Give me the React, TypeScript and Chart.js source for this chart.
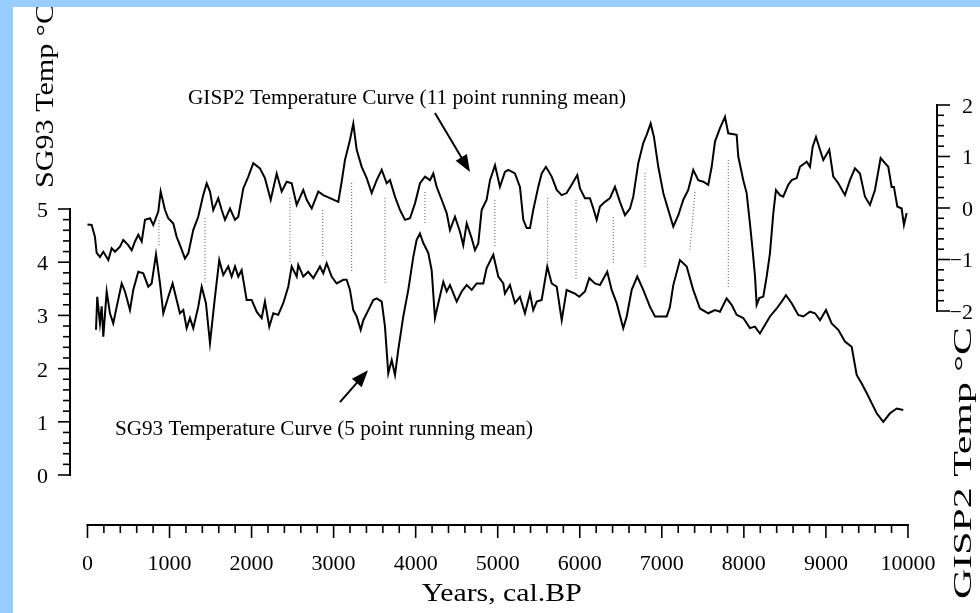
import React, { useEffect, useRef } from "react";
import { Chart, registerables } from "chart.js";

Chart.register(...registerables);

const FONT = '"Liberation Serif", "Times New Roman", serif';

// ---------- GISP2 temperature (right axis, °C), years cal. BP ----------
const gispYears = [
  0, 51, 91, 112, 152, 193, 254, 295, 335, 396, 436, 497, 539, 579, 619, 661, 701, 762, 802, 863,
  892, 945, 985, 1046, 1087, 1127, 1188, 1229, 1289, 1350, 1411, 1453, 1493, 1533, 1594, 1636, 1676, 1737, 1798, 1838,
  1899, 1960, 2021, 2102, 2163, 2233, 2306, 2367, 2428, 2489, 2550, 2630, 2672, 2733, 2813, 2874, 2956, 3057, 3098, 3138,
  3199, 3240, 3281, 3342, 3403, 3464, 3525, 3586, 3647, 3687, 3748, 3809, 3870, 3931, 3992, 4053, 4114, 4175, 4215, 4256,
  4317, 4378, 4418, 4479, 4540, 4580, 4622, 4683, 4723, 4763, 4804, 4865, 4906, 4967, 5027, 5088, 5129, 5210, 5271, 5312,
  5353, 5393, 5433, 5494, 5536, 5588, 5658, 5719, 5780, 5840, 5901, 5970, 6003, 6063, 6124, 6165, 6206, 6246, 6307, 6368,
  6429, 6490, 6551, 6612, 6652, 6713, 6774, 6815, 6864, 6904, 6957, 7018, 7079, 7140, 7201, 7262, 7322, 7383, 7444, 7505,
  7566, 7608, 7648, 7709, 7770, 7810, 7912, 7932, 7993, 8034, 8074, 8107, 8136, 8156, 8188, 8237, 8278, 8318, 8359, 8391,
  8440, 8480, 8541, 8583, 8644, 8684, 8766, 8806, 8839, 8879, 8928, 8968, 9041, 9090, 9151, 9232, 9293, 9354, 9415, 9476,
  9537, 9598, 9667, 9720, 9760, 9801, 9829, 9870, 9923, 9951, 9984,
];
const gispTemps = [
  -0.32, -0.33, -0.56, -0.87, -0.95, -0.85, -1.01, -0.78, -0.85, -0.75, -0.62, -0.72, -0.82, -0.65, -0.52, -0.65, -0.23, -0.2, -0.33, -0.07,
  0.32, -0.04, -0.2, -0.3, -0.56, -0.72, -0.98, -0.88, -0.43, -0.17, 0.25, 0.48, 0.32, -0.04, 0.19, -0.04, -0.23, -0.01, -0.23, -0.17,
  0.38, 0.61, 0.87, 0.77, 0.58, 0.16, 0.67, 0.32, 0.51, 0.48, 0.06, 0.35, 0.16, -0.01, 0.32, 0.25, 0.19, 0.12, 0.51, 0.93,
  1.32, 1.64, 1.13, 0.8, 0.58, 0.29, 0.54, 0.74, 0.48, 0.54, 0.22, -0.04, -0.23, -0.2, 0.09, 0.48, 0.61, 0.54, 0.67, 0.41,
  0.16, -0.1, -0.43, -0.17, -0.46, -0.72, -0.3, -0.59, -0.82, -0.69, -0.04, 0.16, 0.54, 0.83, 0.41, 0.7, 0.74, 0.67, 0.41, -0.23,
  -0.39, -0.39, -0.04, 0.41, 0.67, 0.8, 0.61, 0.35, 0.25, 0.29, 0.45, 0.64, 0.38, 0.19, 0.19, -0.01, -0.23, 0.03, 0.12, 0.19,
  0.41, 0.12, -0.14, -0.01, 0.22, 0.87, 1.26, 1.42, 1.64, 1.38, 0.8, 0.29, -0.04, -0.36, -0.14, 0.16, 0.35, 0.74, 0.54, 0.51,
  0.45, 0.8, 1.29, 1.55, 1.77, 1.45, 1.42, 1.0, 0.54, 0.29, -0.3, -0.82, -1.33, -1.88, -1.75, -1.72, -1.33, -0.88, -0.1, 0.35,
  0.25, 0.22, 0.45, 0.54, 0.58, 0.8, 0.9, 0.8, 1.19, 1.38, 1.13, 0.93, 1.13, 0.61, 0.48, 0.25, 0.54, 0.77, 0.67, 0.22,
  0.06, 0.35, 0.97, 0.87, 0.8, 0.41, 0.41, 0.03, -0.01, -0.33, -0.1,
];

// ---------- SG93 temperature (left axis, °C) ----------
const sgYears = [
  104, 119, 152, 173, 193, 234, 274, 314, 356, 417, 457, 518, 558, 619, 680, 741, 782, 835, 884, 924,
  985, 1038, 1087, 1127, 1168, 1209, 1249, 1289, 1350, 1392, 1444, 1493, 1554, 1606, 1655, 1716, 1757, 1798, 1838, 1879,
  1940, 2001, 2062, 2123, 2163, 2216, 2265, 2325, 2386, 2447, 2489, 2550, 2569, 2630, 2691, 2752, 2834, 2874, 2915, 2976,
  3037, 3118, 3159, 3199, 3240, 3281, 3330, 3362, 3423, 3483, 3525, 3586, 3626, 3666, 3708, 3748, 3788, 3849, 3910, 3971,
  4012, 4052, 4093, 4154, 4195, 4235, 4276, 4337, 4378, 4418, 4500, 4561, 4622, 4683, 4743, 4824, 4865, 4946, 5007, 5068,
  5088, 5149, 5210, 5271, 5332, 5393, 5433, 5475, 5536, 5604, 5658, 5719, 5780, 5840, 5881, 5942, 5994, 6063, 6116, 6185,
  6246, 6335, 6389, 6450, 6530, 6572, 6633, 6701, 6774, 6856, 6917, 7059, 7099, 7140, 7221, 7303, 7383, 7465, 7566, 7648,
  7709, 7790, 7851, 7912, 7993, 8074, 8135, 8196, 8257, 8318, 8400, 8461, 8513, 8583, 8663, 8724, 8806, 8867, 8928, 9001,
  9070, 9151, 9232, 9314, 9375, 9436, 9497, 9558, 9619, 9699, 9781, 9863, 9943,
];
const sgTemps = [
  2.73, 3.35, 2.85, 3.17, 2.6, 3.45, 3.04, 2.85, 3.16, 3.6, 3.45, 3.1, 3.48, 3.82, 3.79, 3.54, 3.6, 4.15, 3.6, 3.04,
  3.35, 3.6, 3.29, 3.04, 3.1, 2.76, 2.95, 2.76, 3.16, 3.54, 3.23, 2.48, 3.35, 4.04, 3.76, 3.92, 3.73, 3.92, 3.73, 3.85,
  3.29, 3.29, 3.07, 2.95, 3.26, 2.79, 3.04, 3.01, 3.23, 3.54, 3.92, 3.73, 3.95, 3.73, 3.82, 3.7, 3.92, 3.79, 3.98, 3.73,
  3.6, 3.67, 3.67, 3.48, 3.1, 2.98, 2.73, 2.91, 3.1, 3.29, 3.32, 3.26, 2.79, 1.91, 2.16, 1.88, 2.35, 2.98, 3.48, 4.1,
  4.42, 4.54, 4.36, 4.17, 3.85, 2.95, 3.23, 3.63, 3.45, 3.57, 3.26, 3.45, 3.57, 3.48, 3.6, 3.6, 3.89, 4.14, 3.73, 3.6,
  3.41, 3.57, 3.23, 3.35, 3.04, 3.41, 3.1, 3.26, 3.29, 3.92, 3.6, 3.54, 2.91, 3.48, 3.45, 3.41, 3.35, 3.45, 3.7, 3.6,
  3.57, 3.82, 3.48, 3.23, 2.76, 2.98, 3.48, 3.73, 3.48, 3.16, 2.98, 2.98, 3.16, 3.57, 4.04, 3.92, 3.48, 3.13, 3.04, 3.1,
  3.07, 3.32, 3.2, 3.01, 2.95, 2.76, 2.79, 2.66, 2.82, 2.98, 3.13, 3.26, 3.38, 3.23, 3.01, 2.98, 3.07, 3.04, 2.91, 3.1,
  2.85, 2.73, 2.51, 2.41, 1.88, 1.72, 1.54, 1.35, 1.16, 1.0, 1.16, 1.25, 1.22,
];

// ---------- dotted correlation lines (left-axis units) ----------
const linkTopYears = [871, 1432, 2468, 2867, 3220, 3626, 4113, 4966, 5609, 5954, 6408, 6795, 7404, 7810];
const linkBottomYears = [871, 1432, 2468, 2867, 3220, 3626, 4113, 4966, 5609, 5954, 6408, 6795, 7343, 7810];
const linkTopValues = [4.79, 4.83, 5.21, 4.98, 5.49, 5.21, 5.32, 5.17, 5.21, 5.17, 4.85, 5.68, 5.32, 5.92];
const linkBottomValues = [4.32, 3.63, 4.0, 4.1, 3.82, 3.61, 4.7, 4.29, 4.0, 3.67, 3.98, 3.91, 4.23, 3.52];

// ---------- ticks ----------
const xTickValues = [0, 1000, 2000, 3000, 4000, 5000, 6000, 7000, 8000, 9000, 10000];
const xTickLabels = ["0", "1000", "2000", "3000", "4000", "5000", "6000", "7000", "8000", "9000", "10000"];
const leftTickValues = [0, 1, 2, 3, 4, 5];
const leftTickLabels = ["0", "1", "2", "3", "4", "5"];
const rightTickValues = [-2, -1, 0, 1, 2];
const rightTickLabels = ["\u22122", "\u22121", "0", "1", "2"];

const X_TITLE = "Years, cal.BP";
const LEFT_TITLE = "SG93 Temp \u00B0C";
const RIGHT_TITLE = "GISP2 Temp \u00B0C";
const GISP_NOTE = "GISP2 Temperature Curve (11 point running mean)";
const SG_NOTE = "SG93 Temperature Curve (5 point running mean)";

function fitText(
  ctx: CanvasRenderingContext2D,
  text: string,
  x: number,
  y: number,
  size: number,
  width: number,
  align: CanvasTextAlign,
  angle = 0
) {
  ctx.save();
  ctx.font = `${size}px ${FONT}`;
  const w = ctx.measureText(text).width;
  ctx.translate(x, y);
  if (angle) ctx.rotate(angle);
  ctx.scale(width / w, 1);
  ctx.textAlign = align;
  ctx.textBaseline = "alphabetic";
  ctx.fillText(text, 0, 0);
  ctx.restore();
}

function plainText(ctx: CanvasRenderingContext2D, text: string, x: number, y: number, size: number, align: CanvasTextAlign) {
  ctx.save();
  ctx.font = `${size}px ${FONT}`;
  ctx.textAlign = align;
  ctx.textBaseline = "alphabetic";
  ctx.fillText(text, x, y);
  ctx.restore();
}

function seg(ctx: CanvasRenderingContext2D, x1: number, y1: number, x2: number, y2: number) {
  ctx.beginPath();
  ctx.moveTo(x1, y1);
  ctx.lineTo(x2, y2);
  ctx.stroke();
}

function arrow(ctx: CanvasRenderingContext2D, x1: number, y1: number, x2: number, y2: number) {
  const ang = Math.atan2(y2 - y1, x2 - x1);
  const L = 17;
  const W = 6.5;
  const bx = x2 - L * Math.cos(ang);
  const by = y2 - L * Math.sin(ang);
  ctx.lineWidth = 2;
  seg(ctx, x1, y1, bx + 2 * Math.cos(ang), by + 2 * Math.sin(ang));
  ctx.beginPath();
  ctx.moveTo(x2, y2);
  ctx.lineTo(bx + W * Math.sin(ang), by - W * Math.cos(ang));
  ctx.lineTo(bx - W * Math.sin(ang), by + W * Math.cos(ang));
  ctx.closePath();
  ctx.fill();
}

const axesPlugin = {
  id: "paperAxes",
  afterDraw(chart: any) {
    const { ctx, chartArea: ca, scales } = chart;
    const x = scales.x;
    const yL = scales.yL;
    const yR = scales.yR;
    ctx.save();
    ctx.strokeStyle = "#000";
    ctx.fillStyle = "#000";
    ctx.lineCap = "butt";

    // left axis
    const lx = ca.left;
    ctx.lineWidth = 2;
    seg(ctx, lx, yL.getPixelForValue(0) + 1, lx, yL.getPixelForValue(5) - 1);
    ctx.lineWidth = 1.6;
    for (let i = 0; i <= 25; i++) {
      const py = yL.getPixelForValue(i * 0.2);
      const len = i % 5 === 0 ? 12 : 7;
      seg(ctx, lx - len, py, lx, py);
    }
    leftTickValues.forEach((v, i) => {
      plainText(ctx, leftTickLabels[i], lx - 22, yL.getPixelForValue(v) + 8, 22, "right");
    });

    // right axis
    const rx = ca.right;
    ctx.lineWidth = 2;
    seg(ctx, rx, yR.getPixelForValue(-2) + 1, rx, yR.getPixelForValue(2) - 1);
    ctx.lineWidth = 1.6;
    for (let i = 0; i <= 20; i++) {
      const py = yR.getPixelForValue(-2 + i * 0.2);
      const len = i % 5 === 0 ? 13 : 7;
      seg(ctx, rx, py, rx + len, py);
    }
    rightTickValues.forEach((v, i) => {
      plainText(ctx, rightTickLabels[i], rx + 36, yR.getPixelForValue(v) + 8, 22, "right");
    });

    // bottom axis
    const by = ca.bottom;
    ctx.lineWidth = 2;
    seg(ctx, x.getPixelForValue(0) - 1, by, x.getPixelForValue(10000) + 1, by);
    ctx.lineWidth = 1.6;
    for (let i = 0; i <= 50; i++) {
      const px = x.getPixelForValue(i * 200);
      const len = i % 5 === 0 ? 13 : 8;
      seg(ctx, px, by, px, by + len);
    }
    xTickValues.forEach((v, i) => {
      plainText(ctx, xTickLabels[i], x.getPixelForValue(v), by + 45, 22, "center");
    });

    // axis titles
    const midX = (x.getPixelForValue(0) + x.getPixelForValue(10000)) / 2 + 4;
    fitText(ctx, X_TITLE, midX, by + 76, 25, 160, "center");
    fitText(ctx, LEFT_TITLE, lx - 17, yL.getPixelForValue(5) - 21, 25, 184, "left", -Math.PI / 2);
    fitText(ctx, RIGHT_TITLE, rx + 34, yR.getPixelForValue(-2) + 288, 25, 272, "left", -Math.PI / 2);

    // annotations (anchored in data units)
    fitText(ctx, GISP_NOTE, x.getPixelForValue(1225), yR.getPixelForValue(2.02), 20, 438, "left");
    fitText(ctx, SG_NOTE, x.getPixelForValue(335), yL.getPixelForValue(0.75), 20, 418, "left");
    arrow(ctx, x.getPixelForValue(4235), yR.getPixelForValue(1.845), x.getPixelForValue(4662), yR.getPixelForValue(0.7));
    arrow(ctx, x.getPixelForValue(3077), yL.getPixelForValue(1.37), x.getPixelForValue(3419), yL.getPixelForValue(1.97));

    ctx.restore();
  },
};

export default function App() {
  const canvasRef = useRef<HTMLCanvasElement | null>(null);

  useEffect(() => {
    const canvas = canvasRef.current;
    if (!canvas) return;

    const linkSets = linkTopYears.map((yr, i) => ({
      label: `link${i}`,
      data: [
        { x: yr, y: linkTopValues[i] },
        { x: linkBottomYears[i], y: linkBottomValues[i] },
      ],
      yAxisID: "yL",
      borderColor: "#555",
      borderWidth: 1,
      borderDash: [1, 2],
      pointRadius: 0,
      fill: false,
      order: 5,
    }));

    const chart = new Chart(canvas, {
      type: "line",
      data: {
        datasets: [
          {
            label: "GISP2",
            data: gispYears.map((yr, i) => ({ x: yr, y: gispTemps[i] })),
            yAxisID: "yR",
            borderColor: "#000",
            borderWidth: 2,
            pointRadius: 0,
            tension: 0,
            fill: false,
            order: 1,
          },
          {
            label: "SG93",
            data: sgYears.map((yr, i) => ({ x: yr, y: sgTemps[i] })),
            yAxisID: "yL",
            borderColor: "#000",
            borderWidth: 2,
            pointRadius: 0,
            tension: 0,
            fill: false,
            order: 1,
          },
          ...linkSets,
        ],
      },
      options: {
        animation: false,
        responsive: false,
        devicePixelRatio: 1,
        layout: { padding: { left: 57, right: 43, top: 23, bottom: 88 } },
        plugins: {
          legend: { display: false },
          tooltip: { enabled: false },
        },
        scales: {
          x: { type: "linear", min: -213, max: 10354, display: false },
          yL: { type: "linear", position: "left", min: -0.94, max: 8.365, display: false },
          yR: { type: "linear", position: "right", min: -6.155, max: 3.456, display: false },
        },
      },
      plugins: [axesPlugin],
    });

    return () => chart.destroy();
  }, []);

  return (
    <div
      style={{
        position: "fixed",
        left: 0,
        top: 0,
        width: 980,
        height: 613,
        background: "#99ccff",
        overflow: "hidden",
      }}
    >
      <div style={{ position: "absolute", left: 13, top: 7, width: 967, height: 606, background: "#fff" }}>
        <canvas ref={canvasRef} width={967} height={606} style={{ display: "block", width: 967, height: 606 }} />
      </div>
    </div>
  );
}
